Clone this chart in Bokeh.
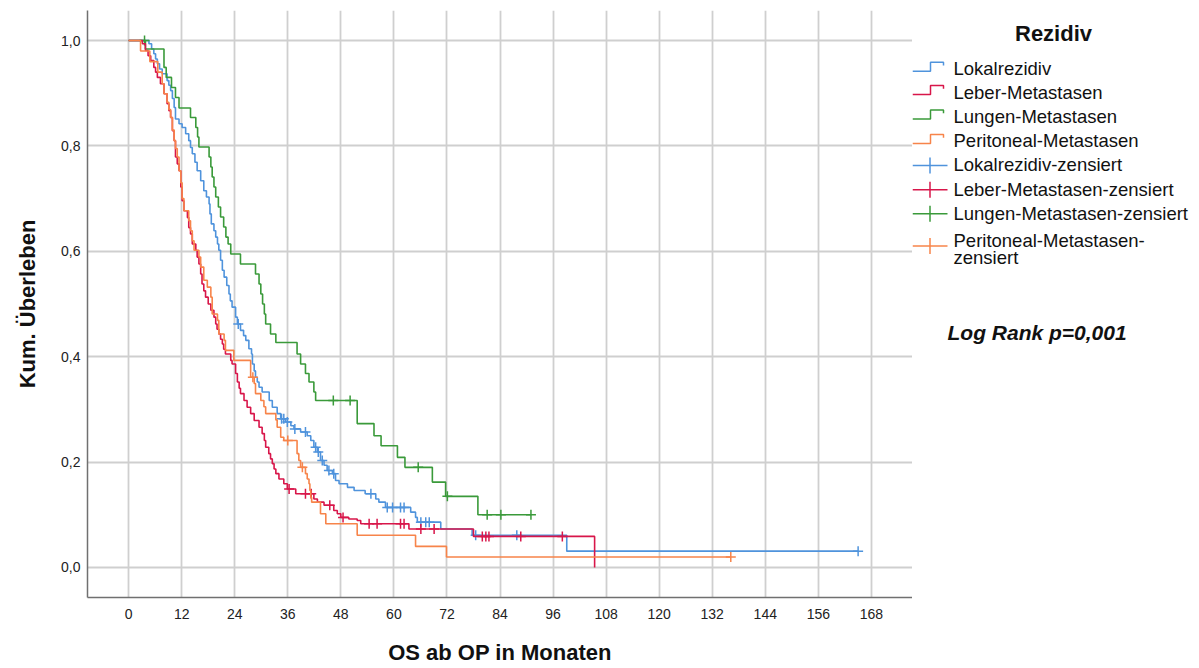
from bokeh.plotting import figure
from bokeh.layouts import row
from bokeh.models import Range1d, FixedTicker, CustomJSTickFormatter
from bokeh.core.properties import value
from bokeh.embed import file_html
from bokeh.resources import INLINE

FONT = "Liberation Sans"

# ---------------- data ----------------
x_ticks = [0, 12, 24, 36, 48, 60, 72, 84, 96, 108, 120, 132, 144, 156, 168]
y_ticks = [0.0, 0.2, 0.4, 0.6, 0.8, 1.0]

group_names = ["Lokalrezidiv", "Leber-Metastasen", "Lungen-Metastasen", "Peritoneal-Metastasen"]

# Lokalrezidiv
lok_t = [0, 4.6, 5.2, 5.7, 6.1, 6.5, 7.0, 7.6, 8.7, 9.1, 9.5, 9.9, 10.3, 10.6, 11.4, 12.1,
         12.9, 13.6, 14.0, 14.4, 15.0, 15.5, 16.3, 17.0, 17.6, 18.2, 18.4, 18.7, 19.3, 19.7, 20.1, 20.4,
         20.8, 21.2, 21.6, 22.2, 22.7, 23.0, 23.4, 24.2, 24.6, 25.3, 26.0, 26.5, 27.2, 27.8, 28.0, 28.4,
         28.7, 29.1, 29.5, 30.2, 31.8, 32.5, 33.6, 34.4, 35.5, 36.7, 37.4, 38.9, 40.4, 41.2, 41.9, 42.7,
         43.4, 44.2, 44.9, 46.1, 46.8, 47.6, 49.5, 51.0, 53.5, 55.9, 56.6, 58.1, 63.8, 64.9, 65.3, 70.6,
         77.7, 99.1, 165.0]
lok_s = [1.0, 0.994, 0.984, 0.975, 0.965, 0.956, 0.946, 0.937, 0.924, 0.915, 0.905, 0.89, 0.873, 0.851, 0.842, 0.835,
         0.823, 0.810, 0.797, 0.785, 0.769, 0.753, 0.734, 0.715, 0.703, 0.690, 0.671, 0.652, 0.639, 0.627, 0.614, 0.602,
         0.583, 0.564, 0.551, 0.535, 0.519, 0.506, 0.494, 0.475, 0.462, 0.450, 0.440, 0.431, 0.415, 0.405, 0.386, 0.373,
         0.361, 0.352, 0.342, 0.333, 0.317, 0.304, 0.292, 0.282, 0.276, 0.269, 0.263, 0.257, 0.250, 0.241, 0.228, 0.219,
         0.203, 0.194, 0.184, 0.178, 0.165, 0.159, 0.152, 0.146, 0.140, 0.130, 0.124, 0.114, 0.105, 0.095, 0.086, 0.073,
         0.061, 0.031, 0.031]
lok_cens_t = [24.8, 34.6, 35.1, 35.9, 37.6, 40.0, 42.3, 42.9, 43.8, 45.3, 46.4, 54.8, 58.5, 59.7, 61.5, 62.3,
              66.1, 67.2, 68.0, 78.5, 87.8, 165.0]
lok_cens_s = [0.462, 0.282, 0.282, 0.276, 0.263, 0.257, 0.228, 0.219, 0.203, 0.184, 0.178, 0.140, 0.114, 0.114, 0.114, 0.114,
              0.086, 0.086, 0.086, 0.061, 0.061, 0.031]

# Leber-Metastasen
leb_t = [0, 3.1, 3.8, 4.4, 5.0, 5.7, 6.1, 6.5, 7.2, 8.0, 8.7, 9.1, 9.5, 9.9, 10.3, 10.6,
         11.0, 11.4, 11.8, 12.1, 12.5, 13.3, 13.6, 14.0, 14.4, 15.2, 15.5, 15.9, 16.3, 16.6, 17.0, 17.4,
         18.0, 18.6, 19.3, 19.7, 20.0, 20.4, 20.8, 21.2, 21.5, 21.9, 23.1, 23.4, 24.2, 24.6, 25.0, 25.3,
         26.1, 26.8, 27.6, 28.4, 29.5, 30.2, 30.7, 31.0, 31.7, 32.1, 32.5, 32.9, 33.3, 34.0, 35.1, 35.9,
         37.8, 41.9, 42.7, 44.2, 46.4, 47.2, 48.0, 49.8, 51.7, 52.5, 63.4, 78.0, 105.4]
leb_s = [1.0, 0.994, 0.981, 0.971, 0.962, 0.949, 0.940, 0.930, 0.918, 0.899, 0.880, 0.867, 0.854, 0.829, 0.810, 0.779,
         0.766, 0.753, 0.722, 0.696, 0.677, 0.664, 0.645, 0.633, 0.614, 0.602, 0.589, 0.576, 0.557, 0.538, 0.525, 0.513,
         0.500, 0.488, 0.475, 0.462, 0.452, 0.443, 0.433, 0.424, 0.414, 0.405, 0.393, 0.386, 0.368, 0.352, 0.340, 0.330,
         0.317, 0.304, 0.292, 0.279, 0.266, 0.254, 0.241, 0.228, 0.216, 0.206, 0.197, 0.187, 0.178, 0.168, 0.159, 0.149,
         0.140, 0.130, 0.124, 0.118, 0.108, 0.102, 0.095, 0.092, 0.089, 0.083, 0.073, 0.059, 0.0]
leb_cens_t = [36.3, 40.0, 41.3, 45.5, 48.5, 54.4, 56.2, 61.5, 62.3, 66.1, 69.1, 80.0, 80.8, 81.5, 88.7, 98.1]
leb_cens_s = [0.149, 0.140, 0.140, 0.118, 0.095, 0.083, 0.083, 0.083, 0.083, 0.073, 0.073, 0.059, 0.059, 0.059, 0.059, 0.059]

# Lungen-Metastasen
lun_t = [0, 3.8, 8.0, 8.5, 9.7, 10.6, 11.4, 14.0, 15.2, 15.6, 15.9, 18.2, 18.6, 18.9, 19.3, 19.7,
         20.3, 20.8, 21.5, 22.0, 22.5, 23.1, 25.3, 28.7, 29.5, 29.9, 30.3, 30.7, 31.0, 32.1, 33.3, 38.1,
         38.9, 40.0, 40.8, 41.9, 42.3, 51.7, 55.5, 57.1, 60.8, 62.5, 68.7, 71.7, 79.0, 91.0]
lun_s = [1.0, 0.984, 0.949, 0.930, 0.911, 0.892, 0.872, 0.854, 0.835, 0.817, 0.798, 0.779, 0.760, 0.741, 0.722, 0.703,
         0.684, 0.665, 0.646, 0.627, 0.614, 0.595, 0.576, 0.557, 0.538, 0.519, 0.500, 0.481, 0.462, 0.443, 0.427, 0.405,
         0.386, 0.368, 0.352, 0.333, 0.317, 0.273, 0.250, 0.231, 0.209, 0.190, 0.162, 0.135, 0.100, 0.100]
lun_cens_t = [3.6, 46.3, 50.1, 65.5, 72.1, 81.1, 84.2, 91.0]
lun_cens_s = [1.0, 0.317, 0.317, 0.190, 0.135, 0.100, 0.100, 0.100]

# Peritoneal-Metastasen
per_t = [0, 2.7, 4.8, 6.6, 7.6, 8.0, 8.7, 9.1, 9.5, 9.9, 10.3, 10.6, 11.0, 11.4, 11.8, 12.1,
         12.5, 13.6, 14.0, 14.4, 14.8, 15.9, 16.3, 17.0, 17.8, 18.6, 18.9, 20.1, 20.4, 21.6, 21.9, 23.8,
         27.6, 28.4, 28.7, 29.9, 30.6, 31.0, 33.3, 33.6, 34.4, 35.1, 38.1, 38.5, 38.9, 40.0, 40.4, 40.8,
         41.0, 41.2, 41.4, 43.4, 44.6, 51.7, 64.9, 71.9, 136.2]
per_s = [1.0, 0.980, 0.960, 0.940, 0.918, 0.899, 0.883, 0.869, 0.854, 0.830, 0.810, 0.795, 0.779, 0.753, 0.730, 0.700,
         0.677, 0.658, 0.639, 0.620, 0.602, 0.589, 0.570, 0.545, 0.532, 0.513, 0.481, 0.469, 0.443, 0.431, 0.412, 0.393,
         0.361, 0.349, 0.330, 0.317, 0.305, 0.292, 0.280, 0.266, 0.247, 0.241, 0.216, 0.203, 0.190, 0.178, 0.168, 0.159,
         0.146, 0.133, 0.124, 0.102, 0.083, 0.061, 0.040, 0.020, 0.020]
per_cens_t = [28.1, 36.0, 39.3, 136.2]
per_cens_s = [0.361, 0.241, 0.190, 0.020]

# ---------------- styling ----------------
C_BLUE = "#4f93dc"
C_RED = "#d8164a"
C_GREEN = "#3a9a3a"
C_ORANGE = "#f7844a"

p = figure(width=912, height=668,
           x_range=Range1d(-9.3, 177.3), y_range=Range1d(-0.057, 1.057),
           toolbar_location=None, output_backend="svg",
           min_border_left=87, min_border_right=0, min_border_top=10, min_border_bottom=71)
p.outline_line_color = None
p.background_fill_color = "white"
p.border_fill_color = "white"

p.xaxis.ticker = FixedTicker(ticks=x_ticks)
p.yaxis.ticker = FixedTicker(ticks=y_ticks)
p.xgrid.ticker = FixedTicker(ticks=x_ticks)
p.ygrid.ticker = FixedTicker(ticks=y_ticks)
p.yaxis.formatter = CustomJSTickFormatter(code="return tick.toFixed(1).replace('.', ',');")

for ax in (p.xaxis, p.yaxis):
    ax.major_tick_line_color = None
    ax.minor_tick_line_color = None
    ax.major_tick_out = 0
    ax.major_tick_in = 0
    ax.axis_line_color = "#707070"
    ax.axis_line_width = 1.5
    ax.major_label_text_font = FONT
    ax.major_label_text_font_size = "14px"
    ax.major_label_text_color = "#222222"
    ax.axis_label_text_font = FONT
    ax.axis_label_text_font_size = "22px"
    ax.axis_label_text_font_style = "bold"
    ax.axis_label_text_color = "#111111"
p.xaxis.major_label_standoff = 11
p.yaxis.major_label_standoff = 7
p.xaxis.axis_label = "OS ab OP in Monaten"
p.yaxis.axis_label = "Kum. Überleben"
p.xaxis.axis_label_standoff = 18
p.yaxis.axis_label_standoff = 18

for g in (p.xgrid, p.ygrid):
    g.grid_line_color = "#cfcfcf"
    g.grid_line_width = 1.8

series = [
    (lok_t, lok_s, lok_cens_t, lok_cens_s, C_BLUE),
    (lun_t, lun_s, lun_cens_t, lun_cens_s, C_GREEN),
    (leb_t, leb_s, leb_cens_t, leb_cens_s, C_RED),
    (per_t, per_s, per_cens_t, per_cens_s, C_ORANGE),
]
for t, s, ct, cs, col in series:
    p.step(t, s, mode="after", line_color=col, line_width=1.6)
    p.scatter(ct, cs, marker="cross", size=10, line_color=col, line_width=1.5)

# ---------------- legend panel (frame aligned with the plot frame: y = page pixel) ----------------
lg = figure(width=287, height=668, x_range=Range1d(0, 287), y_range=Range1d(597, 10),
            toolbar_location=None, output_backend="svg",
            x_axis_location=None, y_axis_location=None,
            min_border_left=0, min_border_right=0, min_border_top=10, min_border_bottom=71)
lg.outline_line_color = None
lg.xgrid.visible = False
lg.ygrid.visible = False
lg.background_fill_color = "white"
lg.border_fill_color = "white"

colors = [C_BLUE, C_RED, C_GREEN, C_ORANGE]
TXT = dict(text_font=value(FONT), text_baseline=value("middle"), text_color="#111111")

lg.text(x=[141], y=[33], text=["Rezidiv"], text_font_size=value("22px"),
        text_font_style=value("bold"), text_align=value("center"), **TXT)

step_sym = [75, 98.3, 122.7, 147.3]
step_txt = [68, 91.5, 115.5, 139.5]
for b, ty, name, col in zip(step_sym, step_txt, group_names, colors):
    lg.line([0, 18, 18, 31, 31], [b - 4.3, b - 4.3, b - 13.3, b - 13.3, b - 10], line_color=col, line_width=1.5)
    lg.text(x=[41], y=[ty], text=[name], text_font_size=value("18.5px"), text_align=value("left"), **TXT)

cens_sym = [165, 189.3, 213.3]
cens_txt = [164, 188.5, 212.5]
for c, ty, name, col in zip(cens_sym, cens_txt, group_names[:3], colors[:3]):
    lg.line([0, 35], [c, c], line_color=col, line_width=1.5)
    lg.line([17.5, 17.5], [c - 8, c + 8], line_color=col, line_width=1.5)
    lg.text(x=[41], y=[ty], text=[name + "-zensiert"], text_font_size=value("18.5px"),
            text_align=value("left"), **TXT)

c = 245.5
lg.line([0, 35], [c, c], line_color=C_ORANGE, line_width=1.5)
lg.line([17.5, 17.5], [c - 8, c + 8], line_color=C_ORANGE, line_width=1.5)
lg.text(x=[41, 41], y=[239.5, 257], text=[group_names[3] + "-", "zensiert"],
        text_font_size=value("18.5px"), text_align=value("left"), **TXT)

lg.text(x=[35], y=[332], text=["Log Rank p=0,001"], text_font_size=value("21px"),
        text_font_style=value("bold italic"), text_align=value("left"), **TXT)

layout = row(p, lg, spacing=0)
open("out.html", "w").write(file_html(layout, INLINE))
